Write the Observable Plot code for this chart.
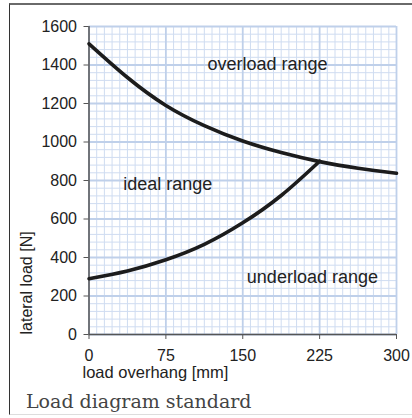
<!DOCTYPE html>
<html>
<head>
<meta charset="utf-8">
<script src="https://cdn.jsdelivr.net/npm/d3@7"></script>
<script src="https://cdn.jsdelivr.net/npm/@observablehq/plot@0.6"></script>
<style>
  html, body { margin: 0; padding: 0; background: #fff; }
  #wrap { position: relative; width: 412px; height: 418px; overflow: hidden; background: #fff; }
  #box { position: absolute; left: 9px; top: 3px; width: 410px; height: 412px;
         border-top: 2px solid #6a6a6a; border-left: 1.5px solid #333; border-bottom: 1px solid #ddd; box-sizing: border-box; }
  #chart { position: absolute; left: 0; top: 0; }
  #caption { position: absolute; left: 26px; top: 389px; font-family: "DejaVu Serif", serif; font-size: 19px;
             color: #444; white-space: nowrap; line-height: 24px; }
</style>
</head>
<body>
<div id="wrap">
  <div id="box"></div>
  <div id="chart"></div>
  <div id="caption">Load diagram standard</div>
</div>
<script>
// Upper boundary (overload limit)
const upperX = [0, 37.5, 75, 112.5, 150, 187.5, 225, 262.5, 300];
const upperY = [1510, 1335, 1190, 1085, 1005, 945, 898, 864, 838];
// Lower boundary (underload limit)
const lowerX = [0, 37.5, 75, 112.5, 150, 187.5, 225];
const lowerY = [290, 330, 388, 468, 580, 722, 900];

const xTicks = [0, 75, 150, 225, 300];
const yTicks = [0, 200, 400, 600, 800, 1000, 1200, 1400, 1600];

const regionLabels = ["overload range", "ideal range", "underload range"];
const regionX = [115.5, 33.3, 154];
const regionY = [1402, 783, 295];

const xTitle = "load overhang [mm]";
const yTitle = "lateral load [N]";

const upper = upperX.map((x, i) => ({x, y: upperY[i]}));
const lower = lowerX.map((x, i) => ({x, y: lowerY[i]}));
const regions = regionLabels.map((t, i) => ({t, x: regionX[i], y: regionY[i]}));

const xMinor = d3.range(0, 300.01, 7.5).filter(v => Math.abs(v % 75) > 1e-6);
const yMinor = d3.range(0, 1600.01, 40).filter(v => Math.abs(v % 200) > 1e-6);

const plot = Plot.plot({
  width: 412,
  height: 390,
  marginLeft: 88.5,
  marginRight: 16,
  marginTop: 26,
  marginBottom: 56,
  style: { fontFamily: "'Liberation Sans', Arial, sans-serif", background: "transparent" },
  x: { domain: [0, 300] },
  y: { domain: [0, 1600] },
  marks: [
    Plot.ruleX(xMinor, { stroke: "#cfdcf1", strokeWidth: 1 }),
    Plot.ruleY(yMinor, { stroke: "#cfdcf1", strokeWidth: 1 }),
    Plot.ruleX(xTicks, { stroke: "#bfd0ea", strokeWidth: 1.8 }),
    Plot.ruleY(yTicks, { stroke: "#bfd0ea", strokeWidth: 1.8 }),
    Plot.ruleX([0], { stroke: "#555", strokeWidth: 1.5 }),
    Plot.ruleY([0], { stroke: "#555", strokeWidth: 1.5 }),
    Plot.axisX({ ticks: xTicks, tickFormat: d3.format("d"), tickSize: 5, tickPadding: 10, fontSize: 16, stroke: "#555",
                 color: "#222", label: null }),
    Plot.axisY({ ticks: yTicks, tickFormat: d3.format("d"), tickSize: 5, tickPadding: 7, fontSize: 16, stroke: "#555",
                 color: "#222", label: null }),
    Plot.line(upper, { x: "x", y: "y", curve: "natural", stroke: "#1c1c1c", strokeWidth: 3.6, strokeLinecap: "round" }),
    Plot.line(lower, { x: "x", y: "y", curve: "natural", stroke: "#1c1c1c", strokeWidth: 3.6, strokeLinecap: "round" }),
    Plot.text(regions, { x: "x", y: "y", text: "t", textAnchor: "start", fontSize: 18, fill: "#222" }),
    Plot.text([xTitle], { frameAnchor: "bottom-left", textAnchor: "start", lineAnchor: "bottom",
                          dx: -6.5, dy: 43, fontSize: 16.5, fill: "#222" }),
    Plot.text([yTitle], { frameAnchor: "bottom-left", textAnchor: "start", rotate: -90,
                          dx: -57, dy: 0, fontSize: 16, fill: "#222" })
  ]
});
document.getElementById("chart").appendChild(plot);
</script>
</body>
</html>
